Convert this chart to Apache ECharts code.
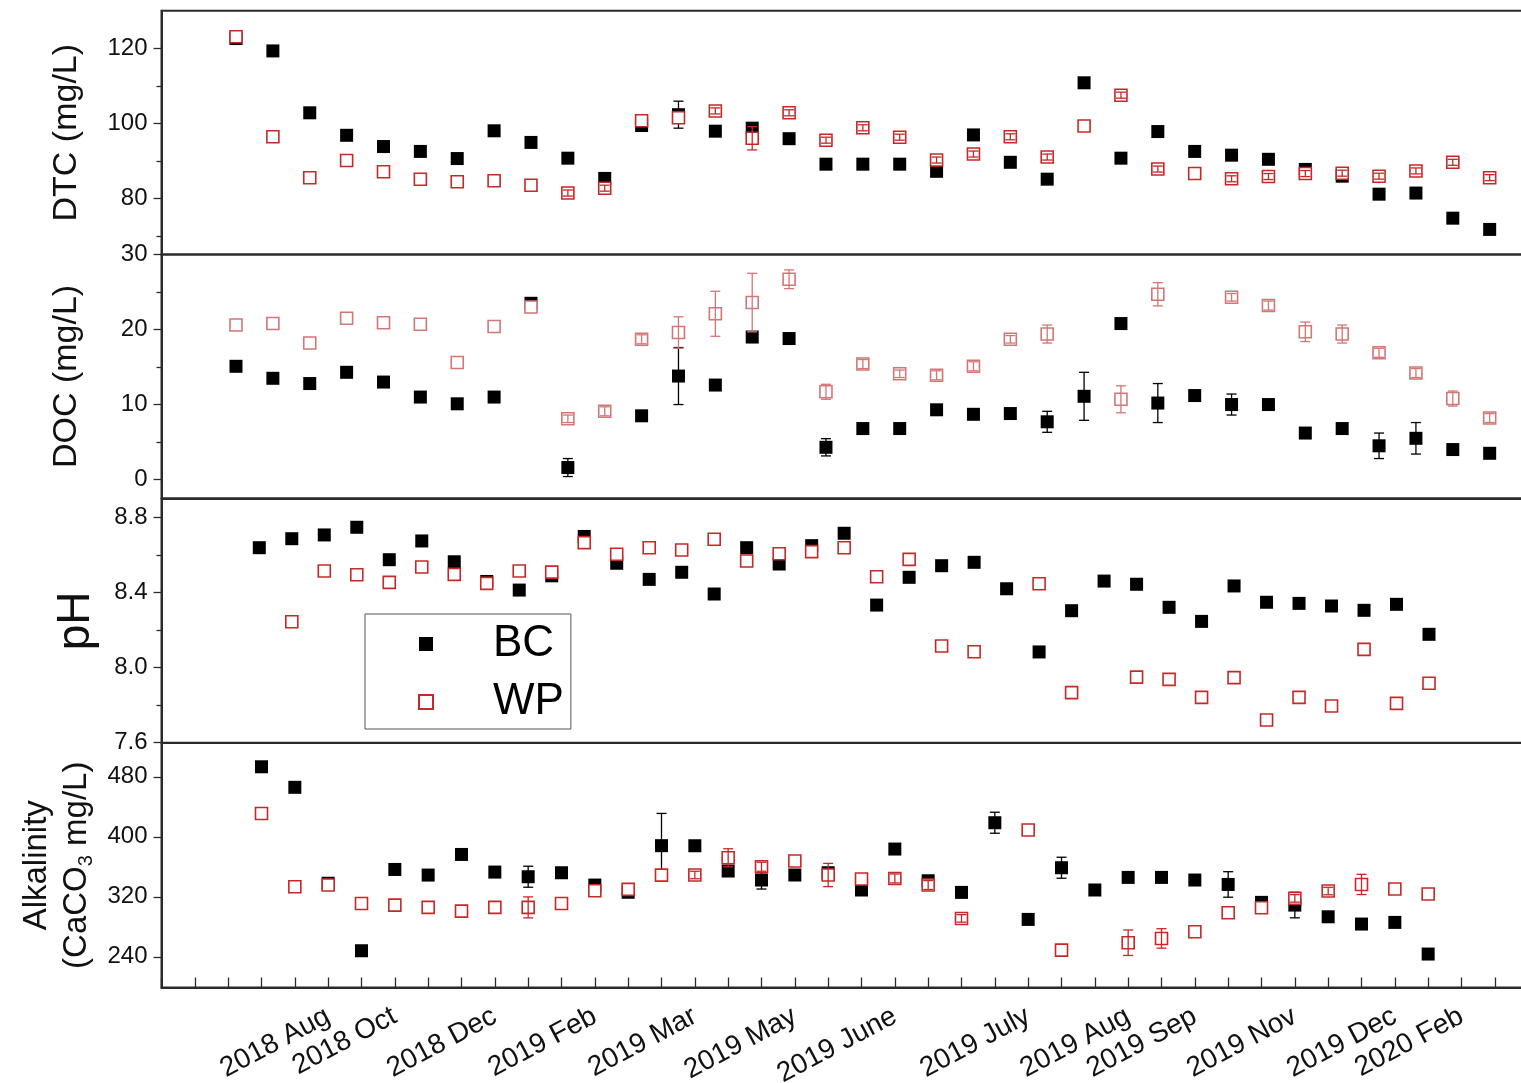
<!DOCTYPE html>
<html>
<head>
<meta charset="utf-8">
<script src="https://cdn.jsdelivr.net/npm/echarts@6/dist/echarts.min.js"></script>
<style>html,body{margin:0;padding:0;background:#fff}#c{width:1521px;height:1083px}</style>
</head>
<body>
<div id="c"></div>
<script>
// ---------- data ----------
const seriesNames = ['BC', 'WP'];
// DTC (mg/L), 35 sampling dates
const dtcBC = [122.6,119.3,102.8,96.8,93.8,92.5,90.6,98.0,94.9,90.7,85.3,99.4,102.3,97.9,98.7,95.9,89.1,89.1,89.1,87.2,96.9,89.6,85.1,110.8,90.7,97.8,92.5,91.5,90.4,87.7,85.9,81.1,81.4,74.7,71.7];
const dtcWP = [123.1,96.4,85.5,90.1,87.1,85.1,84.4,84.7,83.5,81.4,82.7,100.7,101.5,103.3,96.0,102.8,95.5,98.8,96.3,90.2,91.8,96.4,91.0,99.3,107.5,87.8,86.6,85.2,85.8,86.6,86.7,85.9,87.3,89.6,85.5];
const dtcBCErr = [0,0,0,0,0,0,0,0,0,0,0,0,3.6,0,0,0,0,0,0,0,0,0,0,0,0,0,0,0,0,0,0,0,0,0,0];
const dtcWPErr = [0,0,0,0,0,0,0,0,0,0.8,0.8,0,0,0.8,3.1,0.8,0.8,0.8,0.8,0.8,0.8,0.8,0.8,0,0.8,0.8,0,0.8,0.8,0.8,0.8,0.8,0.8,0.8,0.8];
// DOC (mg/L), same 35 dates
const docBC = [15.1,13.5,12.8,14.3,13.0,11.0,10.1,11.0,23.5,1.6,null,8.5,13.8,12.6,19.0,18.8,4.3,6.8,6.8,9.3,8.7,8.8,7.7,11.1,20.8,10.2,11.2,10.0,10.0,6.2,6.8,4.5,5.5,4.0,3.5];
const docWP = [20.6,20.8,18.2,21.5,20.9,20.7,15.6,20.4,23.0,8.1,9.1,18.7,19.6,22.1,23.6,26.7,11.7,15.4,14.1,13.9,15.1,18.7,19.4,null,10.7,24.7,null,24.3,23.2,19.7,19.4,16.9,14.2,10.8,8.2];
const docBCErr = [0,0,0,0,0,0,0,0,0,1.2,0,0,3.8,0,0,0,1.15,0,0,0,0,0,1.4,3.2,0,2.6,0,1.4,0,0,0,1.7,2.1,0,0];
const docWPErr = [0,0,0,0,0,0,0,0,0,0.5,0.6,0.6,2.1,3.0,3.9,1.25,1.0,0.6,0.5,0.6,0.6,0.5,1.2,0,1.8,1.55,0,0.5,0.6,1.3,1.2,0.6,0.6,1.0,0.6];
// pH, 37 dates
const phBC = [8.64,8.688,8.708,8.749,8.576,8.676,8.565,8.46,8.414,8.49,8.70,8.557,8.471,8.509,8.393,8.64,8.553,8.651,8.717,8.334,8.482,8.544,8.562,8.421,8.084,8.304,8.462,8.445,8.322,8.247,8.436,8.349,8.343,8.329,8.306,8.338,8.178];
const phWP = [null,8.245,8.516,8.496,8.455,8.537,8.498,8.45,8.516,8.51,8.667,8.605,8.64,8.628,8.685,8.569,8.608,8.619,8.64,8.485,8.578,8.116,8.085,null,8.448,7.867,null,7.95,7.938,7.842,7.947,7.721,7.842,7.796,8.098,7.81,7.917];
// Alkalinity (CaCO3 mg/L), 36 dates
const alkBC = [493.3,465.9,338,248.0,356.4,348.9,376.4,352.9,346.7,352,335.6,326,388.1,388,354.3,342.3,349,352,329,383.6,341.3,325.8,418.7,289.8,358.7,329,345.8,345.8,342.3,336.4,312.5,308.9,293.3,283.6,285.8,243.6];
const alkWP = [431.1,333.3,335.6,311.1,308.9,305.8,300.9,305.8,305.8,311,328,329.8,348.9,349,372,360,367.6,349,343.6,344.4,335.6,291.1,null,409,248.9,null,258.7,264.4,273.3,298.7,305.3,317.8,327.6,336.4,330.3,323.6];
const alkBCErr = [0,0,0,0,0,0,0,0,14,0,0,0,43,0,0,12,0,0,0,0,0,0,14,0,14,0,0,0,0,17,0,17,0,0,0,4];
const alkWPErr = [0,0,0,0,0,0,0,0,14,0,0,0,0,5,12,6,0,15.5,0,6,6,5,0,0,0,0,17,13,0,0,0,5,5,13.5,0,0];
// bottom axis labels and the tick (alkalinity date index) each one sits on
const xLabelTexts = ['2018 Aug','2018 Oct','2018 Dec','2019 Feb','2019 Mar','2019 May','2019 June','2019 July','2019 Aug','2019 Sep','2019 Nov','2019 Dec','2020 Feb'];
const xLabelTicks = [2,4,7,10,13,16,19,23,26,28,31,34,36];
// y tick labels
const dtcTicks = [80,100,120], dtcMinor = [70,90,110];
const docTicks = [0,10,20,30], docMinor = [5,15,25];
const phTicks = [7.6,8.0,8.4,8.8], phMinor = [7.8,8.2,8.6];
const alkTicks = [240,320,400,480];

// ---------- styling / layout ----------
const FONT = 'Liberation Sans, Arial, sans-serif';
const TXT = '#111';
const AX = '#2b2b2b';
const RED = '#c62828';
const RED_DOC = '#d27676';
const LEFT = 161.5, W = 1366.67;
const H = 243.75;
const tops = [10.8, 254.55, 498.95, 743];
const heights = [H, H, H, 244.5];

const yRanges = [[65,130],[-2.5,30],[7.6,8.9],[199,525]];
// hidden x ranges (index space) per panel so that markers fall where the picture has them
const xRanges = [[-2.0204,35.044],[-2.0204,35.044],[-3.010,39.052],[-3,38]];

const grids = tops.map((t, i) => ({
  left: LEFT, width: W, top: t, height: heights[i],
  outerBoundsMode: 'none',
  show: true, borderColor: AX, borderWidth: 2, backgroundColor: 'transparent', containLabel: false
}));

const xAxes = xRanges.map((r, i) => {
  const base = { type: 'value', gridIndex: i, min: r[0], max: r[1], splitLine: {show: false} };
  if (i < 3) return Object.assign(base, { show: false });
  return Object.assign(base, {
    interval: 1,
    axisLine: { show: true, onZero: false, lineStyle: { color: AX, width: 2 } },
    axisTick: { show: true, inside: true, length: 10, lineStyle: { color: AX, width: 1.3 } },
    axisLabel: {
      rotate: 28, fontSize: 28, fontFamily: FONT, color: TXT, margin: 27,
      formatter: v => { const k = xLabelTicks.indexOf(Math.round(v)); return (k >= 0 && Math.abs(v - Math.round(v)) < 1e-6) ? xLabelTexts[k] : ''; }
    }
  });
});

const majorTicks = [dtcTicks, docTicks, phTicks, alkTicks];
const minorTicks = [dtcMinor, docMinor, phMinor, null];
const names = ['DTC (mg/L)', 'DOC (mg/L)', 'pH', '{a|Alkalinity}\n{a|(CaCO}{s|3}{a| mg/L)}'];
const nameGaps = [78, 78, 62, 62];
const yAxes = [];
yRanges.forEach((r, i) => {
  const nts = { fontSize: 34, fontFamily: FONT, color: TXT };
  if (i === 2) nts.fontSize = 46;
  if (i === 3) {
    nts.rich = {
      a: { fontSize: 33, fontFamily: FONT, color: TXT, lineHeight: 40 },
      s: { fontSize: 20, fontFamily: FONT, color: TXT, lineHeight: 20, verticalAlign: 'bottom' }
    };
    nts.lineHeight = 40;
  }
  yAxes.push({
    type: 'value', gridIndex: i, min: r[0], max: r[1],
    name: names[i], nameLocation: 'middle', nameGap: nameGaps[i], nameTextStyle: nts,
    axisLine: { show: true, onZero: false, lineStyle: { color: AX, width: 2 } },
    axisTick: { show: true, inside: false, length: 8, customValues: majorTicks[i], lineStyle: { color: AX, width: 1.3 } },
    axisLabel: { show: true, customValues: majorTicks[i], fontSize: 24, fontFamily: FONT, color: TXT, margin: 14,
      formatter: v => (i === 2 ? v.toFixed(1) : String(v)) },
    splitLine: { show: false }
  });
});
minorTicks.forEach((m, i) => {
  if (!m) return;
  yAxes.push({
    type: 'value', gridIndex: i, min: yRanges[i][0], max: yRanges[i][1], position: 'left',
    axisLine: { show: false, onZero: false },
    axisTick: { show: true, inside: false, length: 5, customValues: m, lineStyle: { color: AX, width: 1.3 } },
    axisLabel: { show: false }, splitLine: { show: false }
  });
});

function pts(vals) { return vals.map((v, i) => v == null ? null : [i, v]).filter(Boolean); }

function scatter(name, gi, vals, style, z) {
  return {
    type: 'scatter', name, xAxisIndex: gi, yAxisIndex: gi, z,
    symbol: 'rect', symbolSize: style.size, data: pts(vals),
    itemStyle: Object.assign({ opacity: 1 }, style.item), emphasis: { disabled: true }, animation: false
  };
}

function errorBars(id, gi, vals, errs, color, z) {
  const data = [];
  vals.forEach((v, i) => { if (v != null && errs[i]) data.push([i, v - errs[i], v + errs[i]]); });
  return {
    type: 'custom', id, xAxisIndex: gi, yAxisIndex: gi, z, silent: true, animation: false,
    data, encode: { x: 0, y: [1, 2] },
    renderItem(params, api) {
      const x = api.value(0);
      const lo = api.coord([x, api.value(1)]);
      const hi = api.coord([x, api.value(2)]);
      const hw = 5;
      const st = { stroke: color, lineWidth: 1.3, fill: null };
      return { type: 'group', children: [
        { type: 'line', shape: { x1: lo[0], y1: lo[1], x2: hi[0], y2: hi[1] }, style: st },
        { type: 'line', shape: { x1: lo[0] - hw, y1: lo[1], x2: lo[0] + hw, y2: lo[1] }, style: st },
        { type: 'line', shape: { x1: hi[0] - hw, y1: hi[1], x2: hi[0] + hw, y2: hi[1] }, style: st }
      ]};
    }
  };
}

const bcStyle = { size: 13, item: { color: '#000' } };
const wpStyle = c => ({ size: 12, item: { color: '#fff', borderColor: c, borderWidth: 1.6 } });

const series = [
  scatter('BC', 0, dtcBC, bcStyle, 2), errorBars('e0b', 0, dtcBC, dtcBCErr, '#000', 3),
  scatter('WP', 0, dtcWP, wpStyle(RED), 4), errorBars('e0w', 0, dtcWP, dtcWPErr, RED, 5),
  scatter('BC', 1, docBC, bcStyle, 2), errorBars('e1b', 1, docBC, docBCErr, '#000', 3),
  scatter('WP', 1, docWP, wpStyle(RED_DOC), 4), errorBars('e1w', 1, docWP, docWPErr, RED_DOC, 5),
  scatter('BC', 2, phBC, bcStyle, 2),
  scatter('WP', 2, phWP, wpStyle(RED), 4),
  scatter('BC', 3, alkBC, bcStyle, 2), errorBars('e3b', 3, alkBC, alkBCErr, '#000', 3),
  scatter('WP', 3, alkWP, wpStyle(RED), 4), errorBars('e3w', 3, alkWP, alkWPErr, RED, 5)
];

const chart = echarts.init(document.getElementById('c'), null, { renderer: 'canvas' });
chart.setOption({
  backgroundColor: '#fff',
  animation: false,
  textStyle: { fontFamily: FONT },
  grid: grids,
  xAxis: xAxes,
  yAxis: yAxes,
  legend: {
    data: seriesNames, orient: 'vertical', left: 365, top: 614,
    padding: [8, 7, 5, 53], itemWidth: 14, itemHeight: 14, itemGap: 14,
    borderColor: '#555', borderWidth: 1, backgroundColor: '#fff',
    selectedMode: false,
    textStyle: { fontSize: 44, lineHeight: 44, fontFamily: FONT, color: '#000', padding: [0, 0, 0, 55] }
  },
  series
});
</script>
</body>
</html>
